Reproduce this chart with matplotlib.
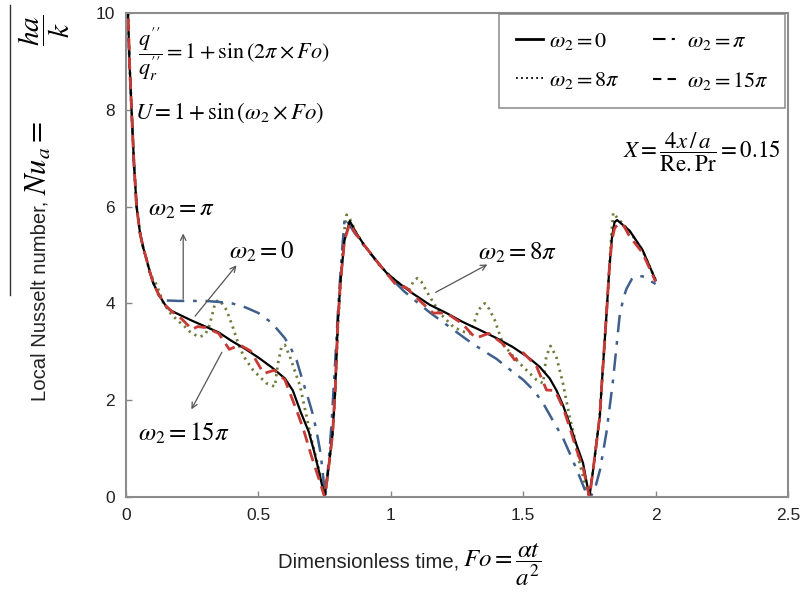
import matplotlib
matplotlib.use("Agg")
import matplotlib.pyplot as plt
from matplotlib.lines import Line2D

plt.rcParams['font.family'] = ['Liberation Sans', 'DejaVu Sans']
plt.rcParams['mathtext.fontset'] = 'stix'

# omega2 = 0 (solid black)
x_w0 = [0.004, 0.0075, 0.013, 0.021, 0.03, 0.04, 0.053, 0.065, 0.078, 0.09, 0.103, 0.12, 0.135,
        0.15, 0.166, 0.2, 0.25, 0.3, 0.35, 0.4, 0.45, 0.5, 0.55, 0.6, 0.63, 0.66, 0.69, 0.71,
        0.73, 0.75, 0.765, 0.78, 0.79, 0.80, 0.81, 0.825, 0.845, 0.87, 0.9, 0.95, 0.984, 1.03,
        1.084, 1.147, 1.21, 1.27, 1.336, 1.40, 1.46, 1.52, 1.562, 1.6, 1.625, 1.65, 1.675, 1.70,
        1.726, 1.75, 1.765, 1.789, 1.80, 1.814, 1.825, 1.835, 1.845, 1.855, 1.87, 1.902, 1.951, 2.0]
y_w0 = [10.8, 10.0, 9.0, 8.0, 6.9, 6.0, 5.45, 5.15, 4.9, 4.65, 4.42, 4.22, 4.08,
        3.95, 3.86, 3.77, 3.64, 3.52, 3.40, 3.22, 3.06, 2.88, 2.68, 2.45, 2.20, 1.75, 1.35, 0.95,
        0.5, 0.0, 0.6, 1.3, 2.2, 3.6, 4.45, 5.3, 5.7, 5.45, 5.2, 4.85, 4.63, 4.42,
        4.2, 3.97, 3.8, 3.62, 3.45, 3.28, 3.1, 2.88, 2.69, 2.45, 2.21, 1.9, 1.52, 1.1,
        0.7, 0.0, 0.6, 1.66, 2.6, 3.73, 4.7, 5.35, 5.68, 5.72, 5.65, 5.5, 5.1, 4.48]

# omega2 = pi (dash-dot blue)
x_w1 = [0.004, 0.0075, 0.013, 0.021, 0.03, 0.04, 0.053, 0.065, 0.078, 0.09, 0.103, 0.118, 0.13,
        0.15, 0.2, 0.25, 0.3, 0.35, 0.4, 0.45, 0.5, 0.55, 0.6, 0.62, 0.644, 0.67, 0.69, 0.706,
        0.72, 0.735, 0.745, 0.752, 0.765, 0.776, 0.789, 0.80, 0.812, 0.826, 0.835, 0.86, 0.9,
        0.95, 1.0, 1.05, 1.1, 1.15, 1.2, 1.25, 1.3, 1.35, 1.4, 1.45, 1.5, 1.54, 1.575, 1.61,
        1.65, 1.68, 1.713, 1.735, 1.755, 1.775, 1.79, 1.814, 1.838, 1.864, 1.878, 1.89, 1.91,
        1.93, 1.96, 1.985, 2.0]
y_w1 = [10.8, 10.0, 9.0, 8.0, 6.9, 6.0, 5.45, 5.15, 4.9, 4.65, 4.42, 4.22, 4.1,
        4.06, 4.05, 4.05, 4.05, 4.03, 4.0, 3.92, 3.8, 3.6, 3.28, 3.1, 2.83, 2.35, 2.0, 1.7,
        1.35, 0.9, 0.4, 0.0, 0.7, 1.5, 2.7, 3.8, 4.8, 5.78, 5.7, 5.48, 5.18,
        4.85, 4.52, 4.25, 4.02, 3.8, 3.6, 3.4, 3.2, 3.02, 2.85, 2.63, 2.42, 2.2, 1.94, 1.6,
        1.22, 0.85, 0.42, 0.12, 0.0, 0.25, 0.56, 1.32, 2.35, 3.73, 4.1, 4.3, 4.5,
        4.57, 4.55, 4.45, 4.4]

# omega2 = 8 pi (dotted green)
x_w8 = [0.004, 0.0075, 0.013, 0.021, 0.03, 0.04, 0.053, 0.065, 0.078, 0.09, 0.1, 0.112, 0.125,
        0.14, 0.17, 0.2, 0.217, 0.24, 0.26, 0.28, 0.3, 0.315, 0.325, 0.336, 0.348, 0.36, 0.38,
        0.404, 0.425, 0.445, 0.48, 0.53, 0.562, 0.574, 0.587, 0.6, 0.619, 0.644, 0.657, 0.682,
        0.70, 0.72, 0.737, 0.752, 0.765, 0.78, 0.79, 0.80, 0.81, 0.822, 0.833, 0.845, 0.87, 0.9,
        0.95, 1.0, 1.04, 1.07, 1.085, 1.10, 1.115, 1.13, 1.147, 1.185, 1.235, 1.27, 1.298,
        1.315, 1.33, 1.355, 1.372, 1.392, 1.423, 1.455, 1.487, 1.52, 1.55, 1.575, 1.587, 1.603,
        1.625, 1.65, 1.675, 1.695, 1.713, 1.732, 1.75, 1.765, 1.789, 1.80, 1.814, 1.825, 1.833,
        1.84, 1.85, 1.87, 1.90, 1.95, 2.0]
y_w8 = [10.8, 10.0, 9.0, 8.0, 6.9, 6.0, 5.45, 5.15, 4.9, 4.62, 4.52, 4.42, 4.25,
        4.02, 3.78, 3.62, 3.55, 3.42, 3.35, 3.31, 3.36, 3.55, 3.75, 4.0, 4.07, 4.02, 3.86,
        3.5, 3.15, 2.9, 2.62, 2.35, 2.28, 2.76, 3.1, 3.14, 2.9, 2.5, 2.3, 1.66,
        1.2, 0.76, 0.35, 0.0, 0.6, 1.3, 2.2, 3.5, 4.4, 5.4, 5.83, 5.75, 5.45, 5.2,
        4.83, 4.55, 4.38, 4.28, 4.45, 4.52, 4.45, 4.3, 4.14, 3.8, 3.52, 3.42, 3.38,
        3.6, 3.86, 4.0, 3.88, 3.66, 3.17, 2.95, 2.76, 2.58, 2.42, 2.35, 2.9, 3.12,
        2.9, 2.35, 1.66, 1.2, 0.7, 0.3, 0.0, 0.6, 1.66, 2.6, 3.73, 4.7, 5.4,
        5.87, 5.8, 5.68, 5.5, 5.1, 4.48]

# omega2 = 15 pi (dashed red)
x_w15 = [0.004, 0.0075, 0.013, 0.021, 0.03, 0.04, 0.053, 0.065, 0.078, 0.09, 0.103, 0.12, 0.135,
         0.15, 0.18, 0.21, 0.25, 0.27, 0.30, 0.35, 0.39, 0.43, 0.47, 0.52, 0.56, 0.6, 0.645,
         0.67, 0.70, 0.73, 0.75, 0.765, 0.78, 0.79, 0.80, 0.81, 0.825, 0.845, 0.87, 0.9, 0.95,
         1.02, 1.06, 1.1, 1.16, 1.21, 1.27, 1.32, 1.37, 1.42, 1.468, 1.5, 1.55, 1.588, 1.62,
         1.65, 1.675, 1.70, 1.726, 1.75, 1.765, 1.789, 1.80, 1.814, 1.825, 1.835, 1.845, 1.86,
         1.88, 1.902, 1.95, 2.0]
y_w15 = [10.8, 10.0, 9.0, 8.0, 6.9, 6.0, 5.45, 5.15, 4.9, 4.65, 4.42, 4.22, 4.08,
         3.95, 3.80, 3.68, 3.46, 3.52, 3.50, 3.38, 3.05, 3.14, 3.02, 2.55, 2.62, 2.42, 1.78,
         1.4, 0.85, 0.35, 0.0, 0.6, 1.3, 2.2, 3.6, 4.45, 5.3, 5.65, 5.42, 5.2, 4.85,
         4.38, 4.32, 4.1, 3.8, 3.8, 3.58, 3.28, 3.38, 3.18, 2.83, 2.98, 2.7, 2.21, 2.2,
         1.85, 1.45, 1.0, 0.6, 0.0, 0.6, 1.66, 2.6, 3.73, 4.7, 5.3, 5.55, 5.65,
         5.6, 5.38, 5.05, 4.45]

xticks = [0, 0.5, 1, 1.5, 2, 2.5]
xtick_labels = ['0', '0.5', '1', '1.5', '2', '2.5']
yticks = [0, 2, 4, 6, 8, 10]

c_blue = '#3f5f8c'
c_green = '#6f7d3c'
c_red = '#c83a36'

fig = plt.figure(figsize=(8, 5.94), dpi=100)
ax = fig.add_axes([0.1575, 0.1633, 0.8275, 0.815])

ax.plot(x_w8, y_w8, color=c_green, lw=2.0, ls=(0, (0.8, 1.6)))
ax.plot(x_w1, y_w1, color=c_blue, lw=1.8, ls=(0, (7, 3.5, 1.5, 3.5)))
ax.plot(x_w0, y_w0, color='black', lw=1.6)
ax.plot(x_w15, y_w15, color=c_red, lw=2.0, ls=(0, (4.5, 2.5)))

ax.set_xlim(0, 2.5)
ax.set_ylim(0, 10)
ax.set_xticks(xticks)
ax.set_xticklabels(xtick_labels)
ax.set_yticks(yticks)
ax.tick_params(direction='in', length=4, width=1, color='#888888', labelsize=12.5,
               labelcolor='#222222', pad=8)
for sp in ax.spines.values():
    sp.set_color('#8c8c8c')
    sp.set_linewidth(1.5)

# legend with black handles
handles = [Line2D([], [], color='black', lw=2.0),
           Line2D([], [], color='black', lw=1.3, ls=(0, (1, 1.8))),
           Line2D([], [], color='black', lw=1.5, ls=(0, (6, 3, 1.5, 3))),
           Line2D([], [], color='black', lw=1.5, ls=(0, (4, 3)))]
labels = [r'$\omega_2=0$', r'$\omega_2=8\pi$', r'$\omega_2=\pi$', r'$\omega_2=15\pi$']
leg = ax.legend(handles, labels, ncol=2, loc='upper right', bbox_to_anchor=(0.996, 0.997),
                borderaxespad=0, fontsize=16, frameon=True, fancybox=False,
                handlelength=1.2, handletextpad=0.3, columnspacing=1.5, borderpad=0.75,
                labelspacing=0.8)
leg.get_frame().set_edgecolor('#777777')
leg.get_frame().set_linewidth(1.2)

# annotations
ax.text(0.045, 9.15,
        r"$\dfrac{q^{\prime\prime}}{q_r^{\prime\prime}}=1+\sin\left(2\pi\times Fo\right)$",
        fontsize=16, va='center', ha='left')
ax.text(0.035, 7.93, r"$U=1+\sin\left(\omega_2\times Fo\right)$", fontsize=16.5,
        va='center', ha='left')
ax.text(2.47, 7.11, r"$X=\dfrac{4x\,/\,a}{\mathrm{Re.Pr}}=0.15$", fontsize=16.5,
        va='center', ha='right')

ax.text(0.083, 5.95, r"$\omega_2=\pi$", fontsize=18, va='center', ha='left')
ax.annotate('', xy=(0.216, 5.5), xytext=(0.216, 4.03),
            arrowprops=dict(arrowstyle='->', color='#555555', lw=0.9))
ax.text(0.39, 5.06, r"$\omega_2=0$", fontsize=18, va='center', ha='left')
ax.annotate('', xy=(0.424, 4.83), xytext=(0.254, 3.69),
            arrowprops=dict(arrowstyle='->', color='#555555', lw=0.9))
ax.text(0.045, 1.32, r"$\omega_2=15\pi$", fontsize=18, va='center', ha='left')
ax.annotate('', xy=(0.242, 1.76), xytext=(0.367, 3.04),
            arrowprops=dict(arrowstyle='->', color='#555555', lw=0.9))
ax.text(1.33, 5.04, r"$\omega_2=8\pi$", fontsize=18, va='center', ha='left')
ax.annotate('', xy=(1.374, 4.83), xytext=(1.16, 4.2),
            arrowprops=dict(arrowstyle='->', color='#555555', lw=0.9))

# axis titles
fig.text(46 / 800, 1 - 401 / 594, 'Local Nusselt number,', rotation=90, rotation_mode='anchor',
         fontsize=14.6, ha='left', va='baseline', color='#222222')
fig.text(47 / 800, 1 - 195 / 594, r"$Nu_a=$", rotation=90, rotation_mode='anchor',
         fontsize=22, ha='left', va='baseline')
fig.text(44 / 800, 1 - 30 / 594, r"$\dfrac{ha}{k}$", rotation=90,
         fontsize=21, ha='center', va='center')
fig.text(278 / 800, 1 - 567 / 594, 'Dimensionless time,', fontsize=14.6, ha='left',
         va='baseline', color='#222222')
fig.text(463 / 800, 1 - 567 / 594, r"$Fo=\dfrac{\alpha t}{a^2}$", fontsize=18, ha='left',
         va='baseline')

# stray rule at the far left of the figure
fig.add_artist(Line2D([10 / 800, 10 / 800], [1 - 5 / 594, 1 - 295 / 594], color='#333333', lw=1))

fig.savefig('out.png', dpi=100)
